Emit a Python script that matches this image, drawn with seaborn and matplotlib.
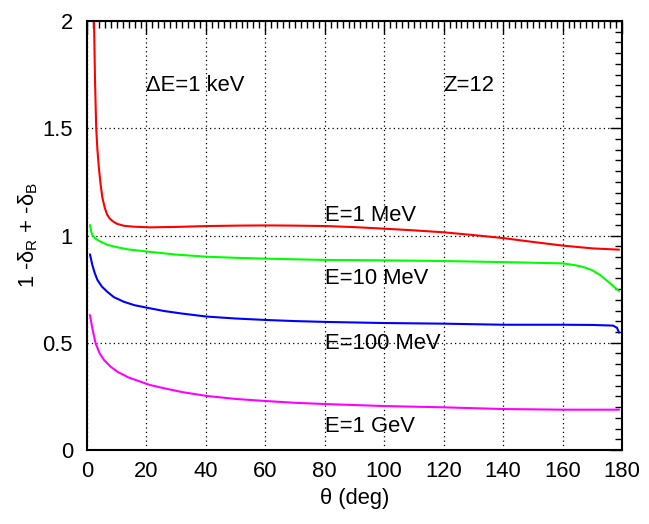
import numpy as np
import pandas as pd
import matplotlib
matplotlib.use("Agg")
import matplotlib.pyplot as plt
import seaborn as sns
from matplotlib.ticker import MultipleLocator

# angles (deg) and curve values
theta_1mev = [1.5, 1.8, 2.36, 2.7, 3.1, 3.5, 4.0, 4.6, 5.2, 6.0, 6.8, 7.6, 8.5, 9.4, 10.2, 12.5, 15.8, 21.2, 30, 40.3,
              50, 60.5, 70, 80.6, 90, 99.7, 110, 119.9, 130, 140, 150, 160, 170, 179]
y_1mev = [2.8, 2.45, 2.0, 1.72, 1.5, 1.4, 1.315, 1.235, 1.175, 1.128, 1.097, 1.08, 1.068, 1.06, 1.054, 1.045, 1.041,
          1.038, 1.04, 1.044, 1.046, 1.047, 1.046, 1.044, 1.039, 1.032, 1.024, 1.015, 1.002, 0.988, 0.97, 0.953,
          0.94, 0.934]

theta_10mev = [1.0, 1.4, 1.8, 2.4, 3.0, 4.6, 7.0, 10.2, 14.0, 20.3, 30, 40.3, 50, 60.5, 70, 80.6, 100,
               119.9, 140, 160, 164, 167, 170, 172.6, 175, 177, 179]
y_10mev = [1.049, 1.02, 1.002, 0.992, 0.984, 0.971, 0.956, 0.945, 0.935, 0.925, 0.911, 0.901, 0.896, 0.892, 0.889,
           0.886, 0.884, 0.881, 0.876, 0.870, 0.862, 0.853, 0.838, 0.816, 0.789, 0.765, 0.741]

theta_100mev = [1.0, 1.8, 2.6, 3.5, 5.0, 6.8, 9.0, 12.4, 16.0, 20.3, 25.9, 32, 40.3, 50, 60.5, 70,
                80.6, 99.7, 119.9, 140, 160, 170, 177, 178.3, 179]
y_100mev = [0.912, 0.862, 0.825, 0.793, 0.762, 0.738, 0.713, 0.691, 0.675, 0.663, 0.648, 0.636, 0.622, 0.613, 0.606,
            0.601, 0.597, 0.592, 0.589, 0.584, 0.584, 0.583, 0.580, 0.57, 0.547]

theta_1gev = [1.0, 1.8, 2.9, 4.2, 5.7, 7.8, 10.2, 14.0, 18.1, 21.2, 25.9, 32, 40.3, 50, 60.5, 70,
              80.6, 99.7, 119.9, 140, 160, 179]
y_1gev = [0.629, 0.567, 0.497, 0.452, 0.42, 0.39, 0.365, 0.338, 0.318, 0.303, 0.288, 0.27, 0.252, 0.238, 0.228, 0.22,
          0.214, 0.205, 0.199, 0.191, 0.188, 0.188]

curve_names = ["E=1 MeV", "E=10 MeV", "E=100 MeV", "E=1 GeV"]
curve_colors = ["#ff0000", "#00ff00", "#0000ff", "#ff00ff"]
label_y = [1.095, 0.80, 0.497, 0.11]

x_ticks = [0, 20, 40, 60, 80, 100, 120, 140, 160, 180]
y_ticks = [0, 0.5, 1, 1.5, 2]
y_tick_labels = ["0", "0.5", "1", "1.5", "2"]

FS = 15.8


def run_plot():
    sns.set_theme(style="white")
    plt.rcParams["font.family"] = ["Liberation Sans", "DejaVu Sans"]
    plt.rcParams["mathtext.fontset"] = "custom"
    plt.rcParams["mathtext.rm"] = "Liberation Sans"
    plt.rcParams["mathtext.it"] = "Liberation Sans"
    plt.rcParams["text.color"] = "black"
    plt.rcParams["axes.labelcolor"] = "black"

    fig = plt.figure(figsize=(6.49, 5.24), dpi=100)
    ax = fig.add_axes([87 / 649, 1 - 450 / 524, 535 / 649, 429 / 524])

    thetas = [theta_1mev, theta_10mev, theta_100mev, theta_1gev]
    ys = [y_1mev, y_10mev, y_100mev, y_1gev]
    frames = []
    for name, t, y in zip(curve_names, thetas, ys):
        frames.append(pd.DataFrame({"theta": t, "val": y, "curve": name}))
    df = pd.concat(frames, ignore_index=True)

    sns.lineplot(data=df, x="theta", y="val", hue="curve", palette=curve_colors,
                 hue_order=curve_names, sort=False, estimator=None, linewidth=1.5,
                 legend=False, ax=ax)

    ax.set_xlim(0, 180)
    ax.set_ylim(0, 2)
    ax.set_xticks(x_ticks)
    ax.set_yticks(y_ticks)
    ax.set_yticklabels(y_tick_labels)
    ax.xaxis.set_minor_locator(MultipleLocator(2))
    ax.yaxis.set_minor_locator(MultipleLocator(0.05))
    ax.tick_params(which="both", direction="in", top=True, right=True, colors="black",
                   labelsize=FS, width=1.0)
    ax.tick_params(which="major", length=9)
    ax.tick_params(which="minor", length=5)
    ax.tick_params(axis="x", pad=8)
    ax.tick_params(axis="y", pad=10)

    ax.grid(True, which="major", color="black", linestyle=(0, (1, 2.5)), linewidth=0.9)
    for s in ax.spines.values():
        s.set_color("black")
        s.set_linewidth(1.5)

    ax.set_xlabel(r"θ (deg)", fontsize=FS, labelpad=4)
    ax.set_ylabel(r"1 -$\delta_{\rm R}$ + -$\delta_{\rm B}$", fontsize=FS, labelpad=2)

    for name, ly in zip(curve_names, label_y):
        ax.text(80, ly, name, fontsize=FS, ha="left", va="center")
    ax.text(20, 1.7, "ΔE=1 keV", fontsize=FS, ha="left", va="center")
    ax.text(120, 1.7, "Z=12", fontsize=FS, ha="left", va="center")

    fig.savefig("out.png", dpi=100)
    plt.close(fig)


if __name__ == "__main__":
    run_plot()
